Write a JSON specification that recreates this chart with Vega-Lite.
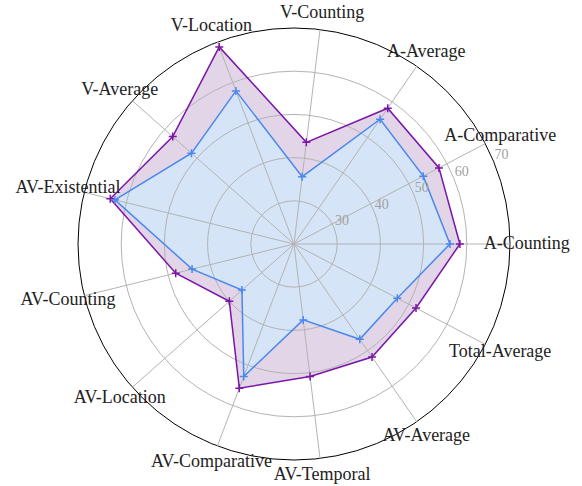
{
  "$schema": "https://vega.github.io/schema/vega-lite/v6.json",
  "width": 432,
  "height": 432,
  "autosize": {"type": "none"},
  "padding": {"left": 78, "top": 28, "right": 72, "bottom": 26},
  "background": "white",
  "config": {"view": {"stroke": null}},
  "datasets": {
    "scores": [
      {"cat": "A-Counting", "idx": 0, "series": "P", "value": 58.4},
      {"cat": "A-Comparative", "idx": 1, "series": "P", "value": 57.9},
      {"cat": "A-Average", "idx": 2, "series": "P", "value": 58.2},
      {"cat": "V-Counting", "idx": 3, "series": "P", "value": 43.7},
      {"cat": "V-Location", "idx": 4, "series": "P", "value": 68.8},
      {"cat": "V-Average", "idx": 5, "series": "P", "value": 57.5},
      {"cat": "AV-Existential", "idx": 6, "series": "P", "value": 63.8},
      {"cat": "AV-Counting", "idx": 7, "series": "P", "value": 48.2},
      {"cat": "AV-Location", "idx": 8, "series": "P", "value": 40.0},
      {"cat": "AV-Comparative", "idx": 9, "series": "P", "value": 55.7},
      {"cat": "AV-Temporal", "idx": 10, "series": "P", "value": 50.9},
      {"cat": "AV-Average", "idx": 11, "series": "P", "value": 51.8},
      {"cat": "Total-Average", "idx": 12, "series": "P", "value": 51.9},
      {"cat": "A-Counting", "idx": 0, "series": "B", "value": 56.1},
      {"cat": "A-Comparative", "idx": 1, "series": "B", "value": 53.8},
      {"cat": "A-Average", "idx": 2, "series": "B", "value": 55.1},
      {"cat": "V-Counting", "idx": 3, "series": "B", "value": 35.7},
      {"cat": "V-Location", "idx": 4, "series": "B", "value": 57.9},
      {"cat": "V-Average", "idx": 5, "series": "B", "value": 51.7},
      {"cat": "AV-Existential", "idx": 6, "series": "B", "value": 62.7},
      {"cat": "AV-Counting", "idx": 7, "series": "B", "value": 44.3},
      {"cat": "AV-Location", "idx": 8, "series": "B", "value": 36.1},
      {"cat": "AV-Comparative", "idx": 9, "series": "B", "value": 52.8},
      {"cat": "AV-Temporal", "idx": 10, "series": "B", "value": 37.7},
      {"cat": "AV-Average", "idx": 11, "series": "B", "value": 46.8},
      {"cat": "Total-Average", "idx": 12, "series": "B", "value": 47.0}
    ],
    "grid": [
      {"level": 30}, {"level": 40}, {"level": 50}, {"level": 60}, {"level": 70}
    ]
  },
  "layer": [
    {
      "data": {"name": "scores"},
      "transform": [
        {"filter": "datum.series == 'P'"},
        {"calculate": "datum.idx * 2 * PI / 13", "as": "ang"},
        {"calculate": "(datum.value - 20) * cos(datum.ang)", "as": "px"},
        {"calculate": "(datum.value - 20) * sin(datum.ang)", "as": "py"}
      ],
      "mark": {"type": "line", "interpolate": "linear-closed", "fill": "#e2d5e8", "strokeWidth": 0},
      "encoding": {
        "x": {"field": "px", "type": "quantitative", "scale": {"domain": [-50, 50], "nice": false, "zero": false}, "axis": null},
        "y": {"field": "py", "type": "quantitative", "scale": {"domain": [-50, 50], "nice": false, "zero": false}, "axis": null},
        "order": {"field": "idx", "type": "quantitative"}
      }
    },
    {
      "data": {"name": "scores"},
      "transform": [
        {"filter": "datum.series == 'B'"},
        {"calculate": "datum.idx * 2 * PI / 13", "as": "ang"},
        {"calculate": "(datum.value - 20) * cos(datum.ang)", "as": "px"},
        {"calculate": "(datum.value - 20) * sin(datum.ang)", "as": "py"}
      ],
      "mark": {"type": "line", "interpolate": "linear-closed", "fill": "#d6e4f7", "strokeWidth": 0},
      "encoding": {
        "x": {"field": "px", "type": "quantitative"},
        "y": {"field": "py", "type": "quantitative"},
        "order": {"field": "idx", "type": "quantitative"}
      }
    },
    {
      "data": {"name": "grid"},
      "transform": [
        {"calculate": "datum.level - 20", "as": "rr"},
        {"calculate": "0", "as": "cx"}
      ],
      "mark": {"type": "point", "shape": "circle", "filled": false, "strokeWidth": 1, "opacity": 1},
      "encoding": {
        "x": {"field": "cx", "type": "quantitative"},
        "y": {"field": "cx", "type": "quantitative"},
        "size": {"field": "rr", "type": "quantitative", "scale": {"type": "pow", "exponent": 2, "domain": [0, 50], "range": [0, 186624]}, "legend": null},
        "stroke": {"condition": {"test": "datum.level == 70", "value": "#000000"}, "value": "#b3b3b3"}
      }
    },
    {
      "data": {"name": "scores"},
      "transform": [
        {"filter": "datum.series == 'P'"},
        {"calculate": "datum.idx * 2 * PI / 13", "as": "ang"},
        {"calculate": "0", "as": "cx"},
        {"calculate": "50 * cos(datum.ang)", "as": "sx"},
        {"calculate": "50 * sin(datum.ang)", "as": "sy"}
      ],
      "mark": {"type": "rule", "stroke": "#b3b3b3", "strokeWidth": 1},
      "encoding": {
        "x": {"field": "cx", "type": "quantitative"},
        "y": {"field": "cx", "type": "quantitative"},
        "x2": {"field": "sx"},
        "y2": {"field": "sy"}
      }
    },
    {
      "data": {"name": "scores"},
      "transform": [
        {"filter": "datum.series == 'P'"},
        {"calculate": "datum.idx * 2 * PI / 13", "as": "ang"},
        {"calculate": "(datum.value - 20) * cos(datum.ang)", "as": "px"},
        {"calculate": "(datum.value - 20) * sin(datum.ang)", "as": "py"}
      ],
      "mark": {"type": "line", "interpolate": "linear-closed", "stroke": "#7b16a6", "strokeWidth": 1.5},
      "encoding": {
        "x": {"field": "px", "type": "quantitative"},
        "y": {"field": "py", "type": "quantitative"},
        "order": {"field": "idx", "type": "quantitative"}
      }
    },
    {
      "data": {"name": "scores"},
      "transform": [
        {"filter": "datum.series == 'B'"},
        {"calculate": "datum.idx * 2 * PI / 13", "as": "ang"},
        {"calculate": "(datum.value - 20) * cos(datum.ang)", "as": "px"},
        {"calculate": "(datum.value - 20) * sin(datum.ang)", "as": "py"}
      ],
      "mark": {"type": "line", "interpolate": "linear-closed", "stroke": "#4a88ec", "strokeWidth": 1.5},
      "encoding": {
        "x": {"field": "px", "type": "quantitative"},
        "y": {"field": "py", "type": "quantitative"},
        "order": {"field": "idx", "type": "quantitative"}
      }
    },
    {
      "data": {"name": "scores"},
      "transform": [
        {"calculate": "datum.idx * 2 * PI / 13", "as": "ang"},
        {"calculate": "(datum.value - 20) * cos(datum.ang)", "as": "px"},
        {"calculate": "(datum.value - 20) * sin(datum.ang)", "as": "py"}
      ],
      "mark": {"type": "point", "shape": "M-1,0L1,0M0,-1L0,1", "filled": false, "size": 64, "strokeWidth": 1.5, "opacity": 1},
      "encoding": {
        "x": {"field": "px", "type": "quantitative"},
        "y": {"field": "py", "type": "quantitative"},
        "stroke": {"field": "series", "type": "nominal", "scale": {"domain": ["P", "B"], "range": ["#7b16a6", "#4a88ec"]}, "legend": null}
      }
    },
    {
      "data": {"name": "grid"},
      "transform": [
        {"calculate": "(datum.level - 20) * cos(PI / 8)", "as": "tx"},
        {"calculate": "(datum.level - 20) * sin(PI / 8)", "as": "ty"}
      ],
      "mark": {"type": "text", "align": "left", "baseline": "bottom", "dx": 1, "dy": 1, "font": "Liberation Serif", "fontSize": 14, "fill": "#a0a0a0"},
      "encoding": {
        "x": {"field": "tx", "type": "quantitative"},
        "y": {"field": "ty", "type": "quantitative"},
        "text": {"field": "level", "type": "quantitative"}
      }
    },
    {
      "data": {"name": "scores"},
      "transform": [
        {"filter": "datum.series == 'P'"},
        {"calculate": "datum.idx * 2 * PI / 13", "as": "ang"},
        {"calculate": "53.9 * cos(datum.ang)", "as": "lx"},
        {"calculate": "53.9 * sin(datum.ang)", "as": "ly"}
      ],
      "mark": {"type": "text", "align": "center", "baseline": "middle", "font": "Liberation Serif", "fontSize": 18, "fill": "#222222"},
      "encoding": {
        "x": {"field": "lx", "type": "quantitative"},
        "y": {"field": "ly", "type": "quantitative"},
        "text": {"field": "cat", "type": "nominal"}
      }
    }
  ]
}
